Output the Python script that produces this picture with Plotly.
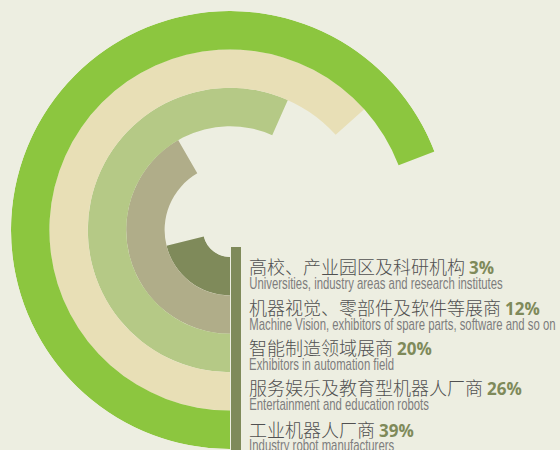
import plotly.graph_objects as go

# inner ring -> outer ring
labels_cn = ['高校、产业园区及科研机构', '机器视觉、零部件及软件等展商', '智能制造领域展商',
             '服务娱乐及教育型机器人厂商', '工业机器人厂商']
labels_en = ['Universities, industry areas and research institutes',
             'Machine Vision, exhibitors of spare parts, software and so on',
             'Exhibitors in automation field',
             'Entertainment and education robots',
             'Industry robot manufacturers']
shares = [3, 12, 20, 26, 39]
arc_degrees = [76, 150, 204, 228, 249]
ring_colors = ['#7f8a5a', '#b0ad89', '#b5c986', '#e8dfb6', '#8cc63f']

BG = '#edeee1'
OLIVE = '#7f8a5a'

fig = go.Figure()

for i, (arc, color) in enumerate(zip(arc_degrees, ring_colors)):
    fig.add_trace(go.Barpolar(r=[1], base=[i], theta=[arc / 2], width=[arc],
                              marker=dict(color=color, line=dict(width=0)),
                              hoverinfo='skip', showlegend=False))

fig.update_layout(width=560, height=450,
                  margin={"r": 0, "t": 0, "l": 0, "b": 0},
                  paper_bgcolor=BG,
                  plot_bgcolor=BG,
                  showlegend=False,
                  polar=dict(domain=dict(x=[11 / 560, 449 / 560], y=[1 / 450, 439 / 450]),
                             bgcolor='rgba(0,0,0,0)',
                             hole=27 / 219,
                             radialaxis=dict(range=[0, 5], visible=False),
                             angularaxis=dict(rotation=-90, direction='clockwise', visible=False)))

# vertical divider bar
fig.add_shape(type='rect', xref='paper', yref='paper',
              x0=231 / 560, x1=241 / 560, y0=0, y1=1 - 247 / 450,
              fillcolor=OLIVE, line=dict(width=0), layer='above')

cn_y = [266, 307, 347, 387, 429]
en_y = [283, 324, 364, 404, 445]
for cn, en, s, yc, ye in zip(labels_cn, labels_en, shares, cn_y, en_y):
    fig.add_annotation(xref='paper', yref='paper', x=247 / 560, y=1 - yc / 450,
                       xanchor='left', yanchor='middle', showarrow=False,
                       text=f"{cn} <span style='color:{OLIVE};font-family:Open Sans;font-size:17px'><b>{s}%</b></span>",
                       font=dict(family='Noto Sans CJK SC', size=18, color='#505050', weight=300))
    fig.add_annotation(xref='paper', yref='paper', x=247 / 560, y=1 - ye / 450,
                       xanchor='left', yanchor='middle', showarrow=False,
                       text=en,
                       font=dict(family='Liberation Sans', size=16, color='#7d7d7d'))

# no margin around the page, and narrow the english captions (condensed look)
post = """
document.body.style.margin = '0';
var gd = document.getElementById('{plot_id}');
function squeeze() {
  document.querySelectorAll('.annotation').forEach(function (a) {
    var i = +a.getAttribute('data-index');
    if (i % 2 === 1) {
      var t = a.querySelector('text');
      t.style.transformBox = 'fill-box';
      t.style.transformOrigin = 'left center';
      t.style.transform = 'scaleX(0.71)';
    }
  });
}
squeeze();
gd.on('plotly_afterplot', squeeze);
"""

fig.write_html("out.html", post_script=post, config={'displayModeBar': False})
